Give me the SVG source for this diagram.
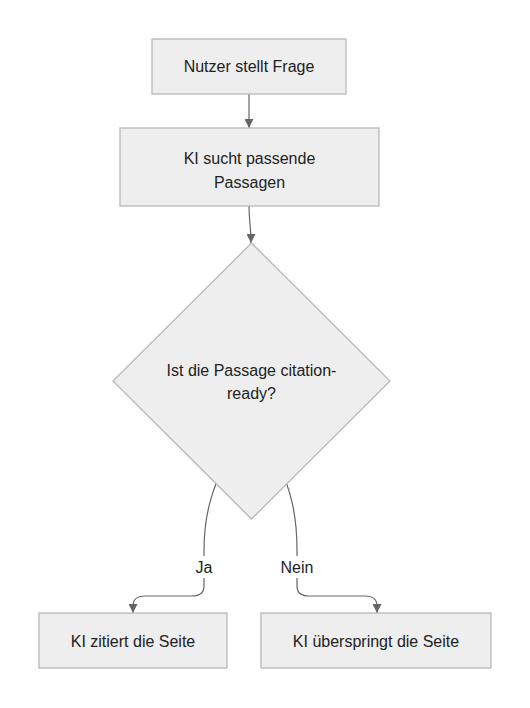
<svg xmlns="http://www.w3.org/2000/svg" width="530" height="708" viewBox="0 0 530 708">
<defs>
<style>
.node{fill:#eeeeee;stroke:#b8b8b8;stroke-width:1.3}
.t{font-family:"Liberation Sans",Arial,sans-serif;font-size:16px;fill:#222;text-anchor:middle}
.e{fill:none;stroke:#666;stroke-width:1.2}
.lb{fill:#ffffff}
</style>
<marker id="arr" viewBox="0 0 10 10" refX="10" refY="5" markerWidth="9" markerHeight="9" markerUnits="userSpaceOnUse" orient="auto">
<path d="M0,0 L10,5 L0,10 Z" fill="#666"/>
</marker>
</defs>
<rect width="530" height="708" fill="#ffffff"/>
<g id="connectors">
<path class="e" d="M249,94 L249,128" marker-end="url(#arr)"/>
<path class="e" d="M249,206 C249,222 251,226 251,243" marker-end="url(#arr)"/>
<path class="e" d="M226,460 C212,490 204,515 204,550 L204,586 Q204,596 192,596 L145,596 Q133,596 133,606 L133,613" marker-end="url(#arr)"/>
<path class="e" d="M277,460 C291,490 297,515 297,550 L297,586 Q297,596 309,596 L365,596 Q377,596 377,606 L377,613" marker-end="url(#arr)"/>
<rect class="lb" x="193" y="556" width="22" height="22"/>
<text class="t" x="204" y="573">Ja</text>
<rect class="lb" x="279" y="556" width="36" height="22"/>
<text class="t" x="297" y="573">Nein</text>
</g>
<g id="n1">
<rect class="node" x="152" y="39" width="194" height="55"/>
<text class="t" x="249" y="72">Nutzer stellt Frage</text>
</g>
<g id="n2">
<rect class="node" x="120" y="128" width="259" height="78"/>
<text class="t" x="249.5" y="164">KI sucht passende</text>
<text class="t" x="249.5" y="188">Passagen</text>
</g>
<g id="n3">
<polygon class="node" points="251.5,243 390,381 251.5,519 113,381"/>
<text class="t" x="251.5" y="376">Ist die Passage citation-</text>
<text class="t" x="251.5" y="399">ready?</text>
</g>
<g id="n4">
<rect class="node" x="39" y="613" width="188" height="55"/>
<text class="t" x="133" y="647">KI zitiert die Seite</text>
</g>
<g id="n5">
<rect class="node" x="261" y="613" width="230" height="55"/>
<text class="t" x="376" y="647">KI überspringt die Seite</text>
</g>
</svg>
